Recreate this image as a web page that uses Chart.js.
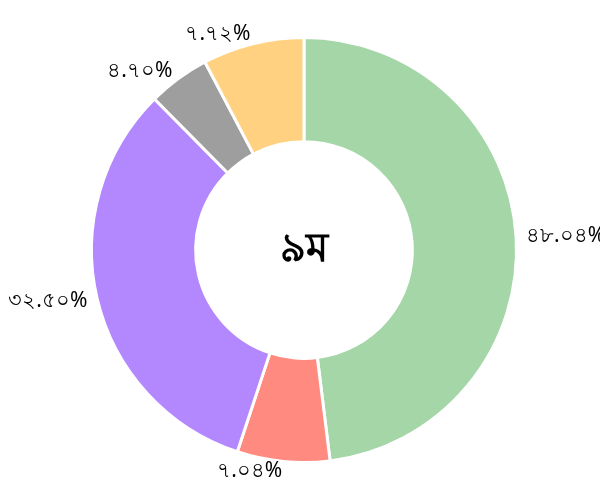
<!DOCTYPE html>
<html lang="bn">
<head>
    <meta charset="UTF-8">
    <title>৯ম</title>
    <script src="https://cdn.jsdelivr.net/npm/chart.js"></script>
    <style>
        html, body { margin: 0; padding: 0; background: #fff; }
        #wrap { width: 600px; height: 498px; }
    </style>
</head>
<body>
    <div id="wrap"><canvas id="pieChart"></canvas></div>

    <script>
        // Données du graphique
        const categories = ['ক', 'খ', 'গ', 'ঘ', 'ঙ'];
        const values = [48.04, 7.04, 32.50, 4.70, 7.72];
        const colors = ['#A5D6A7', '#FF8A80', '#B388FF', '#9E9E9E', '#FFD180'];
        const centerTitle = '৯ম';

        const bnDigits = ['০', '১', '২', '৩', '৪', '৫', '৬', '৭', '৮', '৯'];
        function toBangla(v) {
            return v.toFixed(2).replace(/[0-9]/g, d => bnDigits[+d]) + '%';
        }

        const bnFont = '"Noto Sans", "DejaVu Sans", sans-serif';

        // étiquettes autour de l'anneau
        const outerLabels = {
            id: 'outerLabels',
            afterDatasetsDraw(chart) {
                const ctx = chart.ctx;
                const meta = chart.getDatasetMeta(0);
                ctx.save();
                ctx.font = '21px ' + bnFont;
                ctx.fillStyle = '#000';
                ctx.textBaseline = 'middle';
                meta.data.forEach((arc, i) => {
                    const mid = (arc.startAngle + arc.endAngle) / 2;
                    const r = arc.outerRadius + 10;
                    const x = arc.x + Math.cos(mid) * r;
                    const y = arc.y + Math.sin(mid) * r;
                    ctx.textAlign = Math.cos(mid) >= 0 ? 'left' : 'right';
                    ctx.fillText(toBangla(values[i]), x, y);
                });
                ctx.restore();
            }
        };

        const centerText = {
            id: 'centerText',
            afterDatasetsDraw(chart) {
                const ctx = chart.ctx;
                const arc = chart.getDatasetMeta(0).data[0];
                ctx.save();
                ctx.font = 'bold 40px ' + bnFont;
                ctx.fillStyle = '#000';
                ctx.textAlign = 'center';
                ctx.textBaseline = 'middle';
                ctx.fillText(centerTitle, arc.x, arc.y);
                ctx.restore();
            }
        };

        new Chart(document.getElementById('pieChart'), {
            type: 'doughnut',
            data: {
                labels: categories,
                datasets: [{
                    data: values,
                    backgroundColor: colors,
                    borderColor: '#fff',
                    borderWidth: 3,
                    hoverOffset: 0
                }]
            },
            options: {
                responsive: true,
                maintainAspectRatio: false,
                animation: false,
                cutout: '51%',
                layout: { padding: { top: 36, bottom: 34, left: 8, right: 0 } },
                plugins: {
                    legend: { display: false },
                    tooltip: { enabled: false }
                }
            },
            plugins: [outerLabels, centerText]
        });
    </script>
</body>
</html>
